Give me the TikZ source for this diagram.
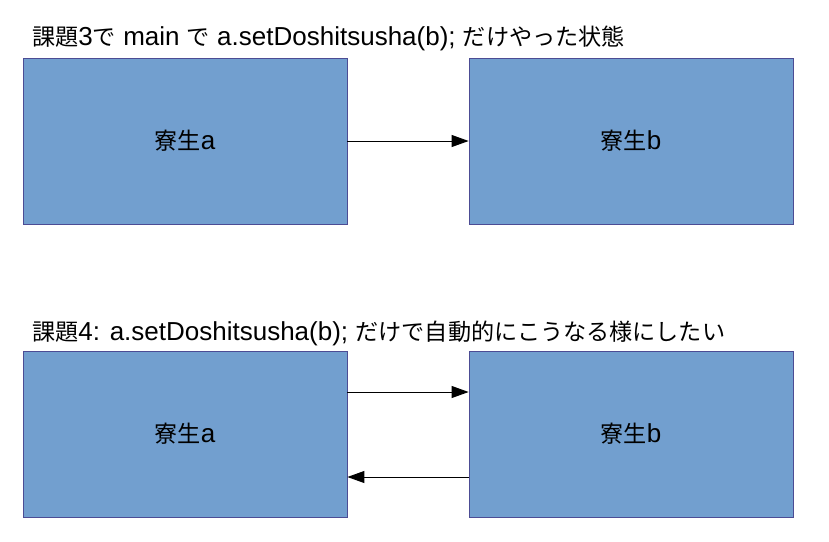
\documentclass[tikz,border=0pt]{standalone}
\usepackage{fontspec}
\setmainfont{Liberation Sans}
\newfontfamily\jp[Scale=0.89]{Noto Sans CJK JP}
\usetikzlibrary{arrows.meta}
\begin{document}
\begin{tikzpicture}[x=1pt, y=-1pt,
    dorm/.style={draw=blue!40!black!70, line width=.8pt, fill={rgb,255:red,114;green,159;blue,207},
      minimum width=324pt, minimum height=166pt, inner sep=0pt, font=\fontsize{26}{30}\selectfont},
    heading/.style={anchor=base west, inner sep=0pt, font=\fontsize{26}{30}\selectfont},
    link/.style={line width=.9pt, -{Triangle[length=17pt, width=12pt]}}]
  \useasboundingbox (0, 0) rectangle (829, 541);
  % headings
  \node[heading] (h3) at (32, 45) {{\jp 課題}3{\jp で} main {\jp で} a.setDoshitsusha(b); {\jp だけやった状態}};
  \node[heading] (h4) at (32, 340) {{\jp 課題}4: a.setDoshitsusha(b); {\jp だけで自動的にこうなる様にしたい}};
  % nodes
  \node[dorm] (a3) at (185, 141) {{\jp 寮生}a};
  \node[dorm] (b3) at (631, 141) {{\jp 寮生}b};
  \node[dorm] (a4) at (185, 434) {{\jp 寮生}a};
  \node[dorm] (b4) at (631, 434) {{\jp 寮生}b};
  % lines
  \draw[link] (a3.east) -- (b3.west);
  \draw[link] ([yshift=42pt]a4.east) -- ([yshift=42pt]b4.west);
  \draw[link] ([yshift=-43pt]b4.west) -- ([yshift=-43pt]a4.east);
\end{tikzpicture}
\end{document}
